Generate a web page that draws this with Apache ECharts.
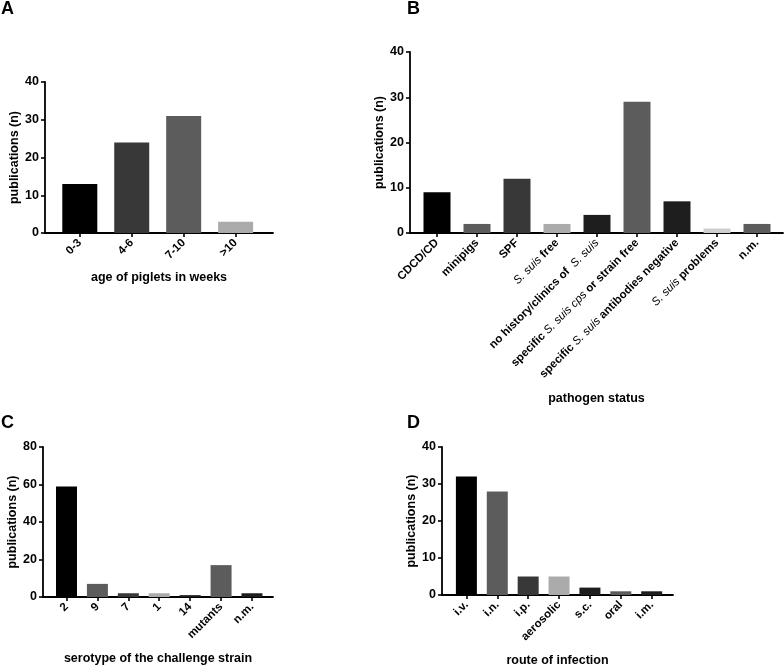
<!DOCTYPE html>
<html><head><meta charset="utf-8">
<script src="https://cdn.jsdelivr.net/npm/echarts@6/dist/echarts.min.js"></script>
<style>html,body{margin:0;padding:0;background:#fff}#c{width:784px;height:668px}</style>
</head><body><div id="c"></div>
<script>
// ---- data ----
const catA = ['0-3', '4-6', '7-10', '>10'];
const valA = [13, 24, 31, 3];
const catB = ['CDCD/CD', 'minipigs', 'SPF', 'S. suis free', 'no history/clinics of  S. suis',
  'specific S. suis cps or strain free', 'specific S. suis antibodies negative', 'S. suis problems', 'n.m.'];
const valB = [9, 2, 12, 2, 4, 29, 7, 1, 2];
const catC = ['2', '9', '7', '1', '14', 'mutants', 'n.m.'];
const valC = [59, 7, 2, 2, 1, 17, 2];
const catD = ['i.v.', 'i.n.', 'i.p.', 'aerosolic', 's.c.', 'oral', 'i.m.'];
const valD = [32, 28, 5, 5, 2, 1, 1];
const yTicksAB = [0, 10, 20, 30, 40];
const yTicksC = [0, 20, 40, 60, 80];

// ---- styles ----
const colA = ['#000000', '#383838', '#5c5c5c', '#ababab'];
const colB = ['#000000', '#5c5c5c', '#383838', '#ababab', '#1e1e1e', '#5c5c5c', '#1e1e1e', '#cfcfcf', '#5c5c5c'];
const colC = ['#000000', '#5c5c5c', '#383838', '#ababab', '#1e1e1e', '#5c5c5c', '#1e1e1e'];
const colD = ['#000000', '#5c5c5c', '#383838', '#ababab', '#1e1e1e', '#5c5c5c', '#1e1e1e'];

const FF = "'Liberation Sans', Arial, sans-serif";
const chart = echarts.init(document.getElementById('c'), null, {renderer: 'canvas'});

const panels = [
  {cats: catA, vals: valA, cols: colA, yt: yTicksAB, grid: {left: 45, top: 82, width: 228, height: 151},
   xmin: -0.67, xmax: 3.72, bw: 35, xname: 'age of piglets in weeks', xgap: 38, ygap: 22},
  {cats: catB, vals: valB, cols: colB, yt: yTicksAB, grid: {left: 410, top: 52, width: 373, height: 181},
   xmin: -0.675, xmax: 8.65, bw: 27, xname: 'pathogen status', xgap: 159, ygap: 22},
  {cats: catC, vals: valC, cols: colC, yt: yTicksC, grid: {left: 43, top: 447, width: 230, height: 150},
   xmin: -0.76, xmax: 6.68, bw: 21, xname: 'serotype of the challenge strain', xgap: 55, ygap: 20},
  {cats: catD, vals: valD, cols: colD, yt: yTicksAB, grid: {left: 442, top: 447, width: 231, height: 150},
   xmin: -0.79, xmax: 6.69, bw: 21, xname: 'route of infection', xgap: 59, ygap: 19}
];

function richLabel(s) {
  return s.replace(/S\. suis( cps)?/g, m => '{i|' + m + '}');
}

const grids = [], xAxes = [], yAxes = [], series = [];
panels.forEach((p, k) => {
  grids.push(Object.assign({containLabel: false}, p.grid));
  const idx = p.cats.map((_, i) => i);
  xAxes.push({
    type: 'value', gridIndex: k, min: p.xmin, max: p.xmax,
    name: p.xname, nameLocation: 'middle', nameGap: p.xgap,
    nameTextStyle: {fontFamily: FF, fontWeight: 'bold', fontSize: 12.5, color: '#000'},
    axisLine: {show: true, onZero: false, lineStyle: {color: '#000', width: 1.8}},
    axisTick: {show: true, customValues: idx, length: 4, lineStyle: {color: '#000', width: 1.6}},
    axisLabel: {
      customValues: idx, rotate: 45, margin: 8, fontFamily: FF, fontWeight: 'bold', fontSize: 11.5, color: '#000',
      formatter: v => richLabel(p.cats[Math.round(v)] || ''),
      rich: {i: {fontFamily: FF, fontStyle: 'italic', fontWeight: 'normal', fontSize: 11.5, color: '#000'}}
    },
    splitLine: {show: false}
  });
  yAxes.push({
    type: 'value', gridIndex: k, min: p.yt[0], max: p.yt[p.yt.length - 1], interval: p.yt[1] - p.yt[0],
    name: 'publications (n)', nameLocation: 'middle', nameGap: p.ygap,
    nameTextStyle: {fontFamily: FF, fontWeight: 'bold', fontSize: 12.5, color: '#000'},
    axisLine: {show: true, onZero: false, lineStyle: {color: '#000', width: 1.8}},
    axisTick: {show: true, length: 4, lineStyle: {color: '#000', width: 1.6}},
    axisLabel: {margin: 6, fontFamily: FF, fontWeight: 'bold', fontSize: 12.5, color: '#000'},
    splitLine: {show: false}
  });
  series.push({
    type: 'bar', xAxisIndex: k, yAxisIndex: k, barWidth: p.bw, silent: true,
    data: p.vals.map((v, i) => ({value: [i, v], itemStyle: {color: p.cols[i]}}))
  });
});

chart.setOption({
  animation: false,
  backgroundColor: '#fff',
  title: [
    {text: 'A', left: 1, top: 0},
    {text: 'B', left: 407, top: 0},
    {text: 'C', left: 1, top: 414},
    {text: 'D', left: 407, top: 414}
  ].map(t => Object.assign(t, {padding: 0, textStyle: {fontFamily: FF, fontWeight: 'bold', fontSize: 18, color: '#000'}})),
  grid: grids, xAxis: xAxes, yAxis: yAxes, series: series
});
</script></body></html>
